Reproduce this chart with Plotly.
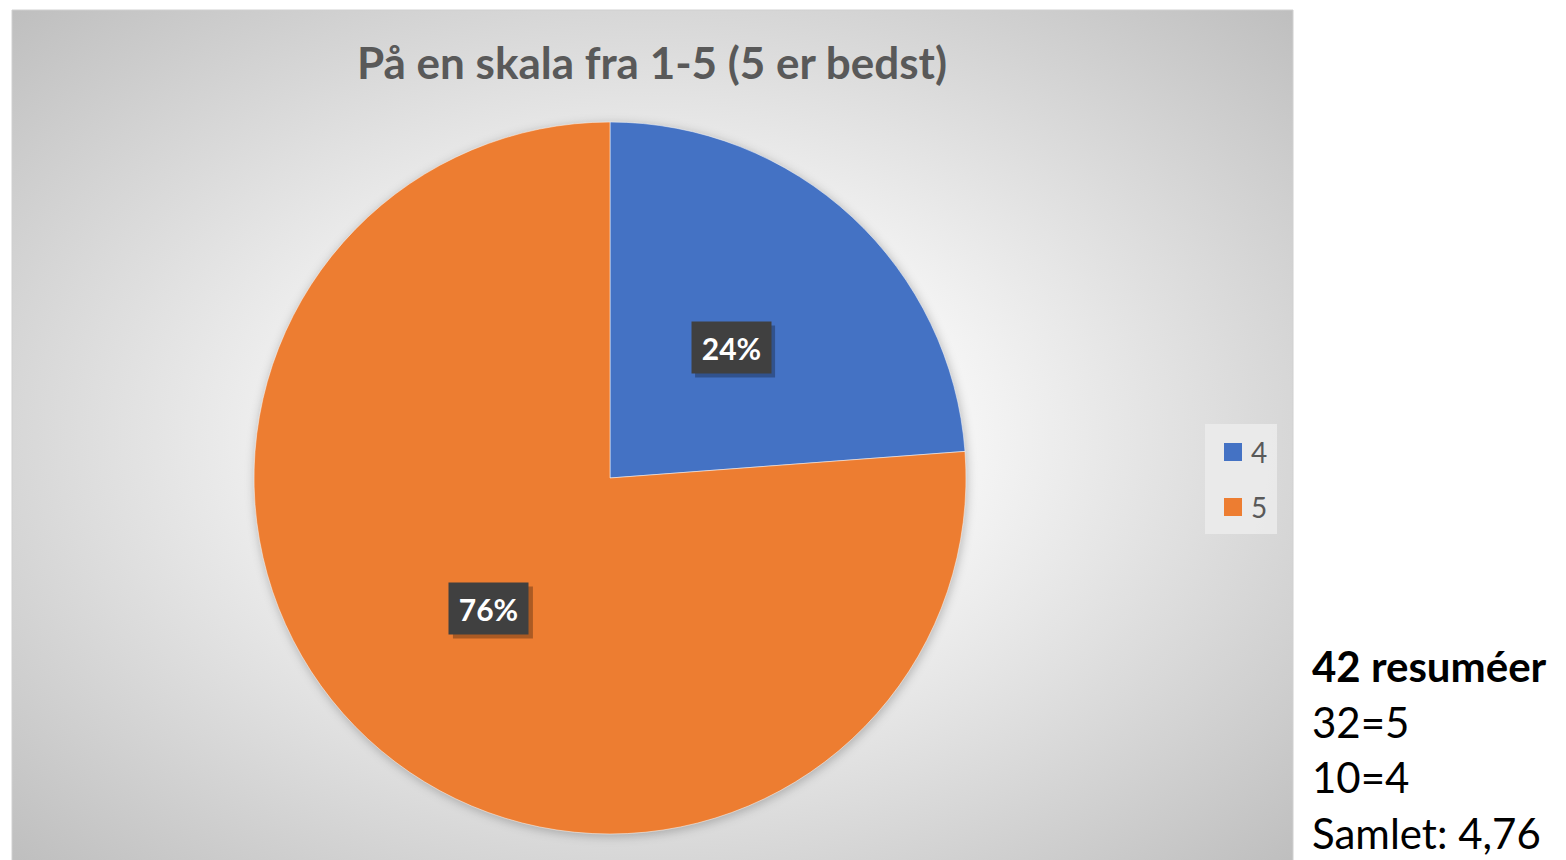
import base64
import math
import plotly.graph_objects as go

# data
categories = ["4", "5"]
counts = [10, 32]
colors = ["#4472C4", "#ED7D31"]
title = "På en skala fra 1-5 (5 er bedst)"
side_lines = ["<b>42 resuméer</b>", "32=5", "10=4", "Samlet: 4,76"]

# page body adds an 8px margin, so the figure is drawn 8px smaller and offset
OFF = 8
W, H = 1566 - OFF, 860 - OFF
FONT = "Lato"

# pie placement (screen pixels)
pie_left, pie_right, pie_top, pie_bottom = 254, 966, 122, 834
cx = (pie_left + pie_right) / 2
cy = (pie_top + pie_bottom) / 2
radius = (pie_right - pie_left) / 2
panel = (12, 10, 1293, 861)


def px(x):
    return (x - OFF) / W


def py(y):
    return 1 - (y - OFF) / H


# radial gradient panel background with a soft shadow under the pie
pw, ph = panel[2] - panel[0], panel[3] - panel[1]
svg = f"""<svg xmlns='http://www.w3.org/2000/svg' width='{pw}' height='{ph}' viewBox='0 0 {pw} {ph}' preserveAspectRatio='none'>
<defs><radialGradient id='g' cx='0.5' cy='0.5' r='0.72'>
<stop offset='0' stop-color='#ffffff'/><stop offset='0.35' stop-color='#f4f4f4'/><stop offset='1' stop-color='#bdbdbd'/>
</radialGradient>
<filter id='b' x='-20%' y='-20%' width='140%' height='140%'><feGaussianBlur stdDeviation='5'/></filter></defs>
<rect x='0' y='0' width='{pw}' height='{ph}' fill='url(#g)'/>
<circle cx='{cx - panel[0] + 1}' cy='{cy - panel[1] + 2}' r='{radius + 1}' fill='rgba(0,0,0,0.22)' filter='url(#b)'/>
</svg>"""
bg_src = "data:image/svg+xml;base64," + base64.b64encode(svg.encode()).decode()

fig = go.Figure()
fig.add_trace(go.Pie(
    labels=categories, values=counts, sort=False, direction="clockwise",
    rotation=0, marker=dict(colors=colors, line=dict(color="white", width=0.5)),
    textinfo="none", hoverinfo="label+percent", showlegend=False,
    domain=dict(x=[px(pie_left), px(pie_right)], y=[py(pie_bottom), py(pie_top)]),
))

shapes = [
    dict(type="rect", xref="paper", yref="paper", x0=px(panel[0]), x1=px(panel[2]),
         y0=py(panel[3]), y1=py(panel[1]),
         line=dict(color="#d0d0d0", width=1), fillcolor="rgba(0,0,0,0)", layer="below"),
]

# percentage labels placed at half radius along each slice's mid angle
total = sum(counts)
cum = 0
annotations = []
for c in counts:
    mid = (cum + c / 2) / total * 2 * math.pi
    cum += c
    lx = cx + 0.5 * radius * math.sin(mid)
    ly = cy - 0.5 * radius * math.cos(mid)
    pct = f"<b>{round(c / total * 100)}%</b>"
    # drop shadow behind the label box
    shapes.append(dict(type="rect", xref="paper", yref="paper",
                       xsizemode="pixel", ysizemode="pixel", xanchor=px(lx), yanchor=py(ly),
                       x0=-36, x1=44, y0=-30, y1=22, line=dict(width=0),
                       fillcolor="rgba(0,0,0,0.28)", layer="above"))
    annotations.append(dict(x=px(lx), y=py(ly), xref="paper", yref="paper", text=pct,
                            showarrow=False, xanchor="center", yanchor="middle",
                            width=71, height=43, borderpad=4, bgcolor="#404040",
                            font=dict(family=FONT, size=30, color="white")))

# legend (custom)
shapes.append(dict(type="rect", xref="paper", yref="paper", x0=px(1205), x1=px(1277),
                   y0=py(534), y1=py(424), line=dict(width=0),
                   fillcolor="rgba(236,236,236,0.85)", layer="above"))
for i, (cat, col) in enumerate(zip(categories, colors)):
    yc = 452 + i * 55
    shapes.append(dict(type="rect", xref="paper", yref="paper", x0=px(1224), x1=px(1242),
                       y0=py(yc + 9), y1=py(yc - 9), line=dict(width=0), fillcolor=col))
    annotations.append(dict(x=px(1249), y=py(yc), xref="paper", yref="paper", text=cat,
                            showarrow=False, xanchor="left", yanchor="middle",
                            font=dict(family=FONT, size=28, color="#595959")))

# title
annotations.append(dict(x=px(652), y=py(62), xref="paper", yref="paper", text=f"<b>{title}</b>",
                        showarrow=False, xanchor="center", yanchor="middle",
                        font=dict(family=FONT, size=44, color="#595959")))

# side notes
for i, line in enumerate(side_lines):
    annotations.append(dict(x=px(1310), y=py(666 + i * 55.5), xref="paper", yref="paper", text=line,
                            showarrow=False, xanchor="left", yanchor="middle",
                            font=dict(family=FONT, size=42, color="black")))

fig.update_layout(
    width=W, height=H, margin=dict(l=0, r=0, t=0, b=0),
    paper_bgcolor="white", plot_bgcolor="white",
    images=[dict(source=bg_src, xref="paper", yref="paper", x=px(panel[0]), y=py(panel[1]),
                 sizex=px(panel[2]) - px(panel[0]), sizey=py(panel[1]) - py(panel[3]),
                 sizing="stretch", xanchor="left", yanchor="top", layer="below")],
    shapes=shapes, annotations=annotations, showlegend=False,
)

fig.write_html("out.html")
